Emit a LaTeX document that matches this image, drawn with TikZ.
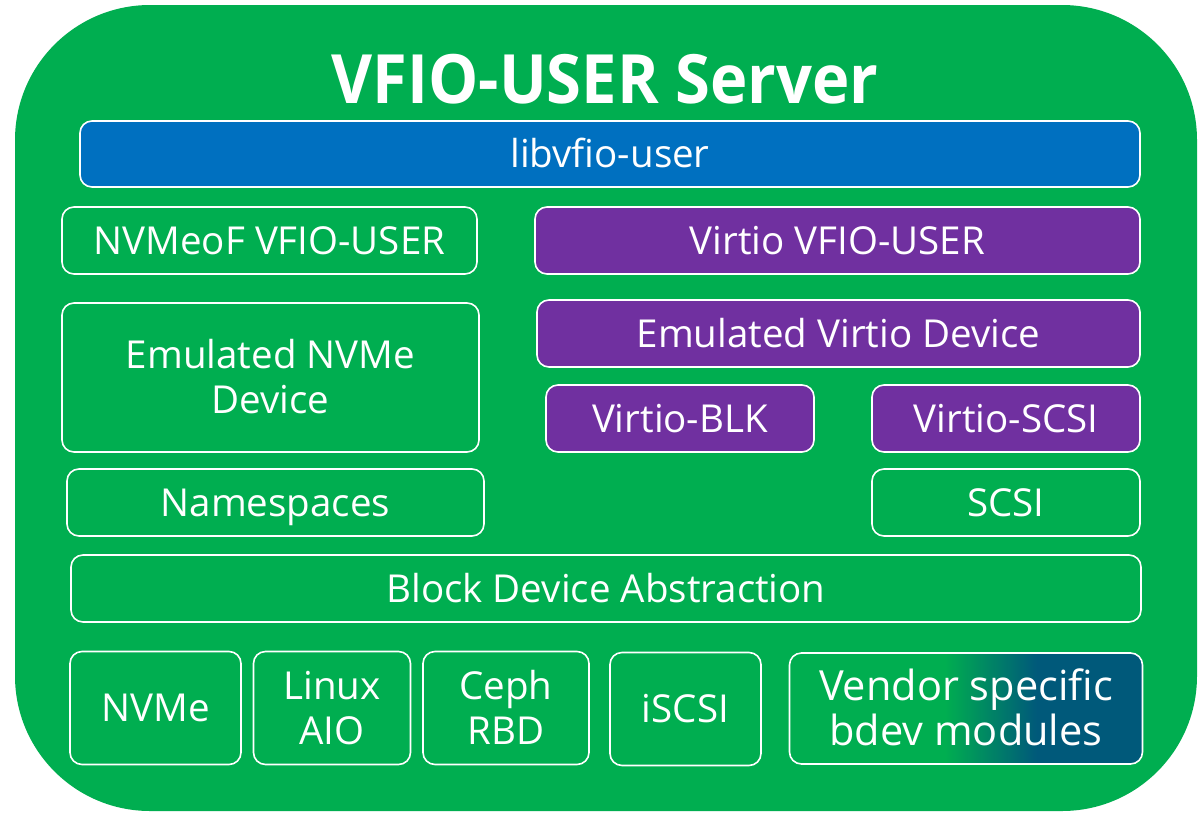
\documentclass[tikz,border=0pt]{standalone}
\usepackage{fontspec}
\setmainfont{Open Sans}
\newfontfamily\titlefont{Open Sans}[FakeStretch=0.93]
\definecolor{vgreen}{RGB}{0,174,80}
\definecolor{vblue}{RGB}{0,112,192}
\definecolor{vpurple}{RGB}{112,48,160}
\definecolor{vdark}{RGB}{0,89,122}
% green on the left half, fading to dark teal towards the right edge
\pgfdeclarehorizontalshading{vendorfade}{100bp}{color(0bp)=(vgreen); color(47bp)=(vgreen); color(60bp)=(vdark); color(100bp)=(vdark)}
\begin{document}
\begin{tikzpicture}[x=1pt,y=-1pt,
  box/.style={draw=white, line width=1.6pt, rounded corners=12pt, text=white,
    inner sep=0pt, align=center, font=\fontsize{38.5}{45}\selectfont,
    text height=27.5pt, text depth=0pt},
  twoline/.style={text height=72.5pt},
  bluebox/.style={box, fill=vblue},
  purplebox/.style={box, fill=vpurple},
  server/.style={fill=vgreen, rounded corners=135pt, inner sep=0pt},
  titletext/.style={text=white, font=\fontsize{68}{80}\titlefont\bfseries, inner sep=0pt, anchor=base}
]
\useasboundingbox (0,0) rectangle (1203,812);
\fill[white] (0,0) rectangle (1203,812);

% outer server block
\node[server, minimum width=1182pt, minimum height=806pt] (srv) at (606,408) {};
\node[titletext] (title) at (605,103) {VFIO-USER Server};

% library layer
\node[bluebox, minimum width=1060pt, minimum height=66pt] (lib) at (610,154) {libvfio-user};

% transport layer
\node[box, minimum width=415pt, minimum height=67pt] (nvmeof) at (269.5,240.5) {NVMeoF VFIO-USER};
\node[purplebox, minimum width=605pt, minimum height=67pt] (virtio) at (837.5,240.5) {Virtio VFIO-USER};

% emulated devices
\node[box, twoline, minimum width=417pt, minimum height=149pt] (emunvme) at (270.5,377.5) {Emulated NVMe\\Device};
\node[purplebox, minimum width=603pt, minimum height=67pt] (emuvirtio) at (838.5,333.5) {Emulated Virtio Device};
\node[purplebox, minimum width=268pt, minimum height=67pt] (blk) at (680,418.5) {Virtio-BLK};
\node[purplebox, minimum width=268pt, minimum height=67pt] (vscsi) at (1006,418.5) {Virtio-SCSI};

% namespaces / scsi
\node[box, minimum width=417pt, minimum height=67pt] (ns) at (275.5,502.5) {Namespaces};
\node[box, minimum width=268pt, minimum height=67pt] (scsi) at (1006,502.5) {SCSI};

% block device layer
\node[box, minimum width=1070pt, minimum height=67pt] (bda) at (606,588.5) {Block Device Abstraction};

% bdev modules
\node[box, minimum width=171pt, minimum height=113pt] (nvme) at (155.5,708) {NVMe};
\node[box, twoline, minimum width=157pt, minimum height=113pt] (aio) at (332,708) {Linux\\AIO};
\node[box, twoline, minimum width=166pt, minimum height=113pt] (ceph) at (506,708) {Ceph\\RBD};
\node[box, minimum width=151pt, minimum height=113pt] (iscsi) at (685.5,709) {iSCSI};
\node[box, twoline, shade, shading=vendorfade, minimum width=353pt, minimum height=111pt,
  font=\fontsize{41.5}{45}\selectfont, text height=74.5pt] (vendor) at (966,708.5) {Vendor specific\\bdev modules};
\end{tikzpicture}
\end{document}
